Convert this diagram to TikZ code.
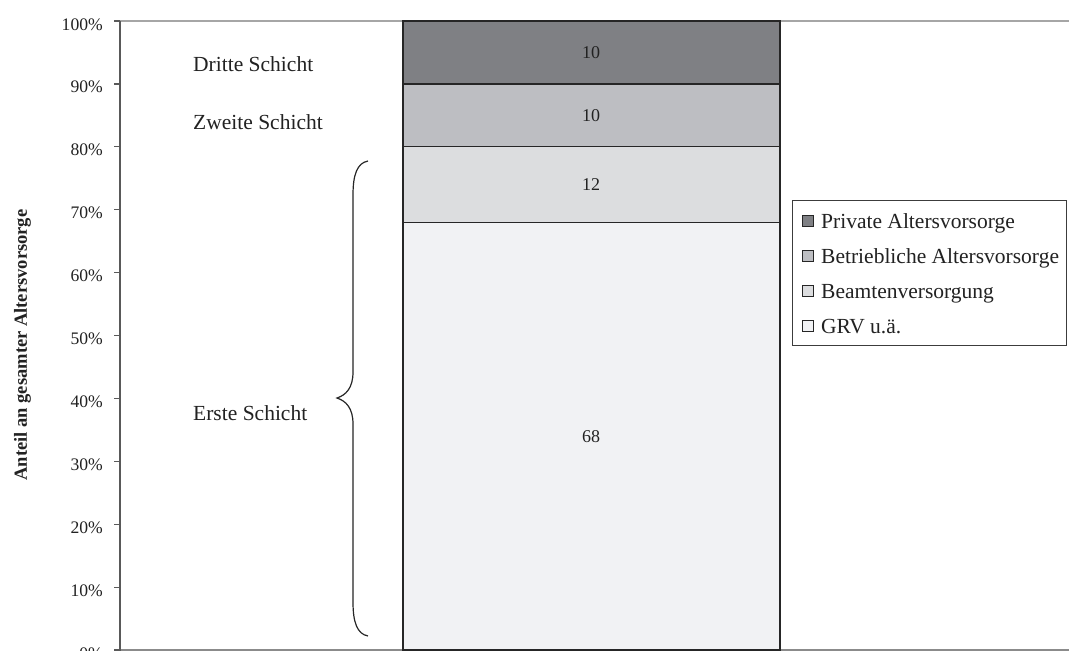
\documentclass[tikz,border=0pt]{standalone}
\usepackage{fontspec}
\setmainfont{Liberation Serif}
\definecolor{cDark}{HTML}{7F8084}
\definecolor{cMid}{HTML}{BDBEC2}
\definecolor{cLight}{HTML}{DCDDDF}
\definecolor{cPale}{HTML}{F1F2F4}
\definecolor{cEdge}{HTML}{262626}
\definecolor{cAxis}{HTML}{595959}
\definecolor{cGrid}{HTML}{A6A6A6}
\definecolor{cText}{HTML}{222222}
\tikzset{
  seg/.style={draw=cEdge, line width=1.3pt},
  ticklbl/.style={anchor=base east, inner sep=0pt, text=cText, font=\fontsize{17.6}{20}\selectfont},
  barlbl/.style={anchor=center, inner sep=0pt, text=cText, font=\fontsize{18}{20}\selectfont},
  layerlbl/.style={anchor=base west, inner sep=0pt, text=cText, font=\fontsize{21.5}{24}\selectfont},
  leglbl/.style={anchor=base west, inner sep=0pt, text=cText, font=\fontsize{21.5}{24}\selectfont},
  legsq/.style={draw=cEdge, line width=0.8pt},
}
\begin{document}
\begin{tikzpicture}[x=1pt,y=-1pt]
\useasboundingbox (0,0) rectangle (1069,651);
\clip (0,0) rectangle (1069,651);
\fill[white] (0,0) rectangle (1069,651);

% plot frame lines
\draw[cGrid, line width=1.5pt] (120,21) -- (1069,21);
\draw[cAxis!70, line width=1.5pt] (120,650) -- (1069,650);

% bar segments
\filldraw[seg, fill=cPale]  (403,650)   rectangle (780,222.3);
\filldraw[seg, fill=cLight] (403,222.3) rectangle (780,146.8);
\filldraw[seg, fill=cMid]   (403,146.8) rectangle (780,83.9);
\filldraw[seg, fill=cDark]  (403,83.9)  rectangle (780,21);

% y axis
\draw[cAxis, line width=1.3pt] (120,21) -- (120,651);
\foreach \i in {0,...,10}{
  \pgfmathsetmacro{\yy}{650-62.9*\i}
  \draw[cAxis, line width=1.2pt] (114,\yy) -- (120,\yy);
  \pgfmathtruncatemacro{\pc}{10*\i}
  \node[ticklbl] (t\i) at (103,\yy+9) {\pc\%};
}

% axis title
\node[rotate=90, anchor=base, inner sep=0pt, text=cText,
      font=\bfseries\fontsize{18.5}{20}\selectfont] (ytitle) at (27,345)
      {Anteil an gesamter Altersvorsorge};

% bar labels
\node[barlbl] (v68) at (591,436.2) {68};
\node[barlbl] (v12) at (591,184.6) {12};
\node[barlbl] (v10a) at (591,115.4) {10};
\node[barlbl] (v10b) at (591,52.5) {10};

% layer labels
\node[layerlbl] (dritte) at (193,71) {Dritte Schicht};
\node[layerlbl] (zweite) at (193,129) {Zweite Schicht};
\node[layerlbl] (erste) at (193,420) {Erste Schicht};

% brace
\draw[cEdge, line width=1.2pt]
  (368,161) .. controls (357,163) and (353,175) .. (353,195)
  -- (353,372) .. controls (353,388) and (346,395) .. (337,398)
  .. controls (346,401) and (353,408) .. (353,424)
  -- (353,602) .. controls (353,622) and (357,634) .. (368,636);

% legend
\draw[cEdge!90, line width=1pt] (792,200) rectangle (1066,345);
\filldraw[legsq, fill=cDark]  (802,215.5) rectangle (813,226.5);
\filldraw[legsq, fill=cMid]   (802,250.5) rectangle (813,261.5);
\filldraw[legsq, fill=cLight] (802,285.5) rectangle (813,296.5);
\filldraw[legsq, fill=cPale]  (802,320.5) rectangle (813,331.5);
\node[leglbl] (l1) at (821,228) {Private Altersvorsorge};
\node[leglbl] (l2) at (821,263) {Betriebliche Altersvorsorge};
\node[leglbl] (l3) at (821,298) {Beamtenversorgung};
\node[leglbl] (l4) at (821,333) {GRV u.ä.};
\end{tikzpicture}
\end{document}
